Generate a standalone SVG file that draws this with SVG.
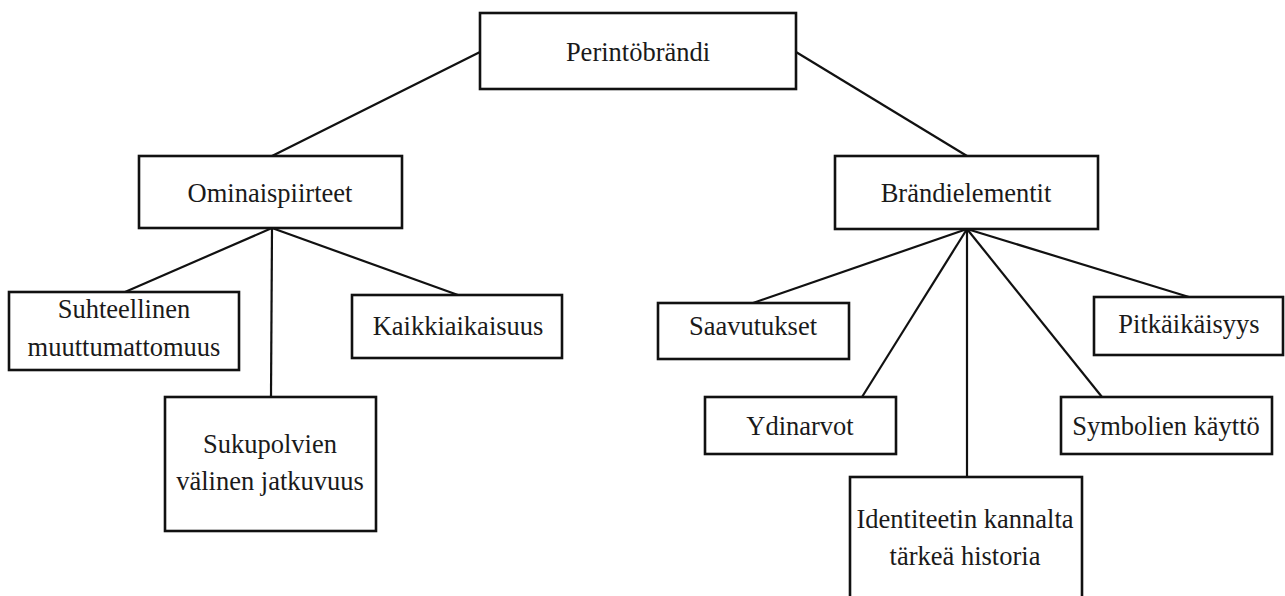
<svg xmlns="http://www.w3.org/2000/svg" width="1285" height="596" viewBox="0 0 1285 596">
<style>
.box{fill:#fff;stroke:#111;stroke-width:2.6}
.lbl{font-family:'Liberation Serif','Times New Roman',Tinos,'DejaVu Serif',serif;font-size:26.5px;fill:#1a1a1a;text-anchor:middle}
.conn line{stroke:#111;stroke-width:2.2}
</style>
<rect width="1285" height="596" fill="#fff"/>
<g class="conn" id="connectors">
<line x1="480" y1="52" x2="272" y2="156"/>
<line x1="796" y1="52" x2="967" y2="156"/>
<line x1="272" y1="228" x2="125" y2="292"/>
<line x1="272" y1="228" x2="271" y2="397"/>
<line x1="272" y1="228" x2="458" y2="295"/>
<line x1="967" y1="229" x2="753" y2="303"/>
<line x1="967" y1="229" x2="862" y2="397"/>
<line x1="967" y1="229" x2="967" y2="477"/>
<line x1="967" y1="229" x2="1102" y2="397"/>
<line x1="967" y1="229" x2="1189" y2="297"/>
</g>
<g id="perintobrandi"><rect class="box" x="480" y="13" width="316" height="76"/><text class="lbl" x="638" y="61">Perintöbrändi</text></g>
<g id="ominaispiirteet"><rect class="box" x="139" y="156" width="263" height="72"/><text class="lbl" x="270" y="202">Ominaispiirteet</text></g>
<g id="brandielementit"><rect class="box" x="835" y="156" width="263" height="73"/><text class="lbl" x="966" y="202">Brändielementit</text></g>
<g id="suhteellinen"><rect class="box" x="9" y="292" width="230" height="78"/><text class="lbl" x="124" y="318">Suhteellinen</text><text class="lbl" x="124" y="356">muuttumattomuus</text></g>
<g id="kaikkiaikaisuus"><rect class="box" x="352" y="295" width="210" height="63"/><text class="lbl" x="458" y="335">Kaikkiaikaisuus</text></g>
<g id="sukupolvien"><rect class="box" x="165" y="397" width="211" height="134"/><text class="lbl" x="270" y="453">Sukupolvien</text><text class="lbl" x="270" y="490">välinen jatkuvuus</text></g>
<g id="saavutukset"><rect class="box" x="658" y="303" width="191" height="56"/><text class="lbl" x="753" y="335">Saavutukset</text></g>
<g id="ydinarvot"><rect class="box" x="705" y="397" width="191" height="57"/><text class="lbl" x="800" y="435">Ydinarvot</text></g>
<g id="identiteetin"><rect class="box" x="850" y="477" width="232" height="130"/><text class="lbl" x="965" y="528">Identiteetin kannalta</text><text class="lbl" x="965" y="565">tärkeä historia</text></g>
<g id="symbolien"><rect class="box" x="1061" y="397" width="211" height="57"/><text class="lbl" x="1166" y="435">Symbolien käyttö</text></g>
<g id="pitkaikaisyys"><rect class="box" x="1094" y="297" width="189" height="58"/><text class="lbl" x="1189" y="333">Pitkäikäisyys</text></g>
</svg>
